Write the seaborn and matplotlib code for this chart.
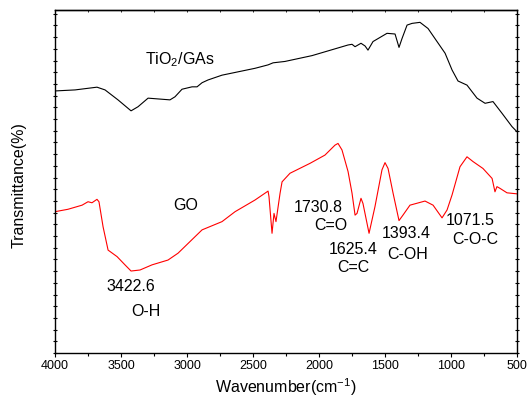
import numpy as np
import pandas as pd
import seaborn as sns
import matplotlib
matplotlib.use('Agg')
import matplotlib.pyplot as plt
from matplotlib.ticker import MultipleLocator, NullFormatter

# spectra (wavenumber in cm-1, transmittance in arbitrary %)
wn_tio2 = [4000, 3848, 3682, 3621, 3523, 3424, 3371, 3295, 3129, 3091, 3038, 2962,
           2924, 2886, 2841, 2735, 2485, 2386, 2348, 2258, 2053, 1780, 1750, 1727,
           1682, 1651, 1629, 1591, 1485, 1424, 1394, 1371, 1333, 1295, 1235, 1174,
           1106, 1045, 992, 947, 879, 803, 742, 682, 614, 538, 500]
t_tio2 = [76.4, 76.7, 77.5, 76.7, 73.8, 70.6, 71.8, 74.3, 73.8, 74.7, 76.9, 77.6,
          77.6, 78.8, 79.6, 81.0, 83.0, 84.0, 84.6, 85.0, 86.7, 89.8, 90.0, 89.3,
          90.3, 89.5, 88.3, 90.8, 93.2, 93.0, 89.1, 91.7, 95.6, 96.1, 96.4, 94.6,
          90.8, 87.4, 82.5, 79.3, 78.1, 74.3, 72.8, 73.3, 69.9, 66.0, 64.5]

wn_go = [4000, 3902, 3795, 3750, 3720, 3682, 3667, 3636, 3598, 3530, 3470, 3424,
         3356, 3265, 3144, 3068, 2886, 2735, 2636, 2485, 2386, 2379, 2356, 2341,
         2326, 2295, 2280, 2220, 2068, 1955, 1879, 1856, 1826, 1780, 1750, 1727,
         1712, 1682, 1667, 1621, 1576, 1523, 1500, 1477, 1439, 1394, 1364, 1311,
         1197, 1136, 1068, 1030, 992, 932, 879, 833, 758, 689, 667, 652, 629, 576, 500]
t_go = [41.2, 41.9, 43.1, 44.1, 43.8, 44.8, 44.1, 36.8, 30.0, 28.1, 25.7, 23.9,
        24.2, 25.7, 27.1, 29.1, 35.9, 38.3, 41.2, 44.6, 47.2, 45.6, 34.9, 40.7,
        38.3, 46.6, 49.9, 52.4, 55.3, 57.7, 60.6, 61.1, 59.2, 52.9, 46.6, 40.2,
        40.7, 45.1, 43.6, 34.9, 42.7, 53.4, 55.5, 53.8, 46.6, 38.6, 40.2, 43.1,
        44.3, 43.1, 39.4, 41.7, 46.1, 54.3, 57.2, 55.8, 53.8, 50.9, 47.0, 48.5, 48.0, 46.7, 46.4]

peak_labels = ['3422.6', 'O-H', '1730.8', 'C=O', '1625.4', 'C=C',
               '1393.4', 'C-OH', '1071.5', 'C-O-C']
peak_x = [3424, 3311, 2004, 1909, 1742, 1742, 1341, 1326, 856, 814]
peak_y = [19.5, 12.2, 42.4, 37.3, 30.3, 24.8, 34.8, 28.6, 38.6, 33.1]

df = pd.concat([
    pd.DataFrame({'Wavenumber': wn_tio2, 'T': t_tio2, 'Sample': 'TiO2/GAs'}),
    pd.DataFrame({'Wavenumber': wn_go, 'T': t_go, 'Sample': 'GO'}),
], ignore_index=True)

sns.set_style('ticks')
plt.rcParams['font.family'] = ['Liberation Sans', 'DejaVu Sans']
plt.rcParams['mathtext.fontset'] = 'custom'
plt.rcParams['mathtext.rm'] = 'Liberation Sans'
plt.rcParams['mathtext.it'] = 'Liberation Sans'
plt.rcParams['text.color'] = 'black'
plt.rcParams['axes.labelcolor'] = 'black'
plt.rcParams['xtick.color'] = 'black'
plt.rcParams['ytick.color'] = 'black'

fig = plt.figure(figsize=(5.28, 4.08), dpi=100)
ax = fig.add_axes([0.1042, 0.1348, 0.8750, 0.8407])

sns.lineplot(data=df, x='Wavenumber', y='T', hue='Sample', estimator=None,
             palette={'TiO2/GAs': 'black', 'GO': '#ff0000'}, linewidth=0.8,
             legend=False, ax=ax)

ax.set_xlim(4000, 500)
ax.set_ylim(0, 100)
ax.xaxis.set_major_locator(MultipleLocator(500))
ax.xaxis.set_minor_locator(MultipleLocator(250))
ax.yaxis.set_major_locator(MultipleLocator(3.41))
ax.yaxis.set_major_formatter(NullFormatter())

for s in ax.spines.values():
    s.set_linewidth(1.0)
    s.set_color('black')

ax.tick_params(axis='x', which='major', direction='out', length=3, width=0.8,
               labelsize=9, pad=2, top=False)
ax.tick_params(axis='x', which='minor', direction='out', length=2, width=0.8, top=False)
ax.tick_params(axis='y', which='major', direction='inout', length=2.5, width=0.8,
               left=True, right=True)

# short ticks along the top edge
top = ax.secondary_xaxis('top')
top.xaxis.set_major_locator(MultipleLocator(500))
top.xaxis.set_minor_locator(MultipleLocator(250))
top.xaxis.set_major_formatter(NullFormatter())
top.tick_params(which='both', direction='in', length=1.5, width=0.6)
top.spines['top'].set_linewidth(1.0)

ax.set_xlabel('Wavenumber(cm$^{-1}$)', fontsize=11.5, labelpad=3)
ax.set_ylabel('Transmittance(%)', fontsize=11.5)
ax.yaxis.set_label_coords(-0.061, 0.49)

ax.text(3053, 85.6, r'TiO$_2$/GAs', fontsize=11.5, ha='center', va='center')
ax.text(3008, 43.1, 'GO', fontsize=11.5, ha='center', va='center')
for lab, x, y in zip(peak_labels, peak_x, peak_y):
    ax.text(x, y, lab, fontsize=11.5, ha='center', va='center')

fig.savefig('out.png', dpi=100)
